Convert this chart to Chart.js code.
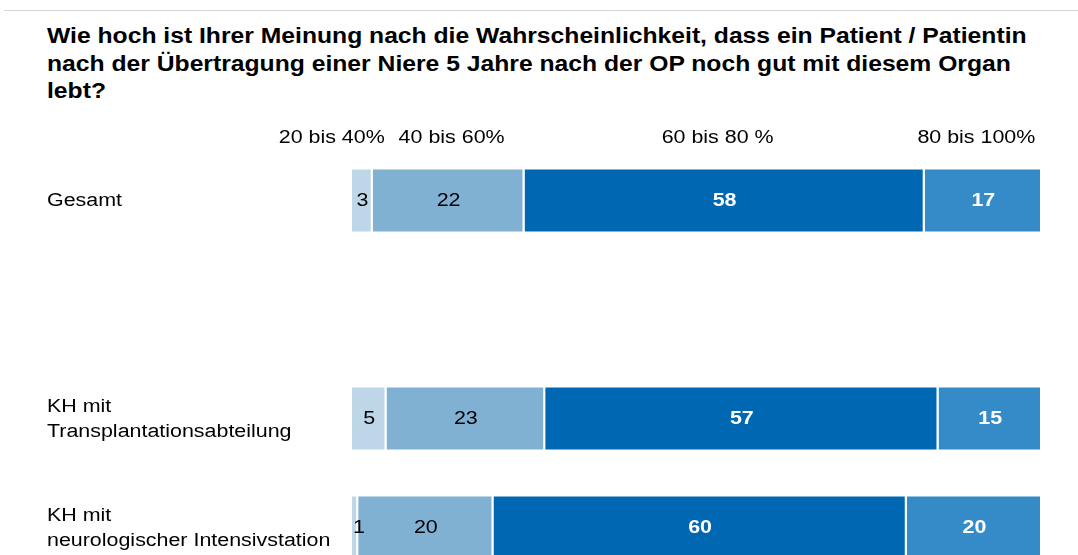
<!DOCTYPE html>
<html>
<head>
<meta charset="utf-8">
<script src="https://cdn.jsdelivr.net/npm/chart.js@4"></script>
<style>
  html, body { margin: 0; padding: 0; background: #fff; overflow: hidden; }
  #wrap { position: relative; width: 1078px; height: 555px; overflow: hidden; }
  #rule { position: absolute; left: 4px; right: 0; top: 10px; height: 1px; background: #d3d8d8; }
  #title {
    position: absolute; left: 47px; top: 22px; white-space: nowrap;
    font: bold 22px "Liberation Sans", Arial, sans-serif; line-height: 27.5px; color: #000;
    transform: scaleX(1.122); transform-origin: 0 0;
  }
  #chartBox { position: absolute; left: 0; top: 0; width: 1078px; height: 600px; }
</style>
</head>
<body>
<div id="wrap">
  <div id="rule"></div>
  <div id="title">Wie hoch ist Ihrer Meinung nach die Wahrscheinlichkeit, dass ein Patient / Patientin<br>nach der Übertragung einer Niere 5 Jahre nach der OP noch gut mit diesem Organ<br>lebt?</div>
  <div id="chartBox"><canvas id="chart" width="1078" height="600"></canvas></div>
</div>
<script>
// Data
const categories = [["Gesamt"], [""], ["KH mit", "Transplantationsabteilung"], ["KH mit", "neurologischer Intensivstation"]];
const seriesNames = ["20 bis 40%", "40 bis 60%", "60 bis 80 %", "80 bis 100%"];
const s20to40 = [3, null, 5, 0.9];
const s40to60 = [22, null, 23, 19.6];
const s60to80 = [58, null, 57, 59.9];
const s80to100 = [17, null, 15, 19.6];
const colors = ["#bdd6e8", "#80b1d3", "#0068b3", "#348bc8"];
const labelColors = ["#000", "#000", "#fff", "#fff"];
const labelBold = [false, false, true, true];

const FONT = '"Liberation Sans", Arial, sans-serif';
const STRETCH = 1.19; // text in the reference is a bit wider than Arial

function wideText(ctx, text, x, y, align) {
  ctx.save();
  ctx.translate(x, y);
  ctx.scale(STRETCH, 1);
  ctx.textAlign = align;
  ctx.fillText(text, 0, 0);
  ctx.restore();
}

// Category names, values inside bars, series names above first row
const textLayer = {
  id: "textLayer",
  afterDatasetsDraw(chart) {
    const ctx = chart.ctx;
    const yScale = chart.scales.y;
    ctx.save();
    ctx.textBaseline = "middle";

    ctx.font = "18px " + FONT;
    ctx.fillStyle = "#000";
    categories.forEach((lines, j) => {
      const cy = yScale.getPixelForValue(j) + 1;
      const lh = 25;
      lines.forEach((t, k) => {
        wideText(ctx, t, 47, cy + (k - (lines.length - 1) / 2) * lh, "left");
      });
    });

    chart.data.datasets.forEach((ds, i) => {
      const meta = chart.getDatasetMeta(i);
      meta.data.forEach((bar, j) => {
        const v = ds.data[j];
        if (v == null) return;
        ctx.font = (labelBold[i] ? "bold " : "") + "18px " + FONT;
        ctx.fillStyle = labelColors[i];
        // tiny segments: label pushed a little to the right
        const cx = Math.max((bar.base + bar.x) / 2, bar.base + 7);
        wideText(ctx, String(Math.round(v)), cx, bar.y + 1, "center");
      });
      const first = meta.data[0];
      ctx.font = "18px " + FONT;
      ctx.fillStyle = "#000";
      const y = chart.chartArea.top - 8;
      if (i === 0) {
        wideText(ctx, ds.label, first.x + 12, y, "right");
      } else {
        wideText(ctx, ds.label, (first.base + first.x) / 2 + (i === 1 ? 3 : -7), y, "center");
      }
    });
    ctx.restore();
  }
};

const datasets = [s20to40, s40to60, s60to80, s80to100].map((d, i) => ({
  label: seriesNames[i],
  data: d,
  backgroundColor: colors[i],
  borderColor: "rgba(255,255,255,0.85)",
  borderWidth: { left: 0, right: 2, top: 1, bottom: 1 },
  borderSkipped: false,
  barPercentage: 1,
  categoryPercentage: 0.585
}));

new Chart(document.getElementById("chart"), {
  type: "bar",
  data: { labels: categories, datasets: datasets },
  plugins: [textLayer],
  options: {
    indexAxis: "y",
    responsive: false,
    animation: false,
    layout: { padding: { top: 146, left: 47, right: 36, bottom: 18 } },
    plugins: { legend: { display: false }, tooltip: { enabled: false } },
    scales: {
      x: { stacked: true, min: 0, max: 100, display: false },
      y: {
        stacked: true,
        grid: { display: false },
        border: { display: false },
        ticks: { display: false },
        afterFit(scale) { scale.width = 305; }
      }
    }
  }
});
</script>
</body>
</html>
